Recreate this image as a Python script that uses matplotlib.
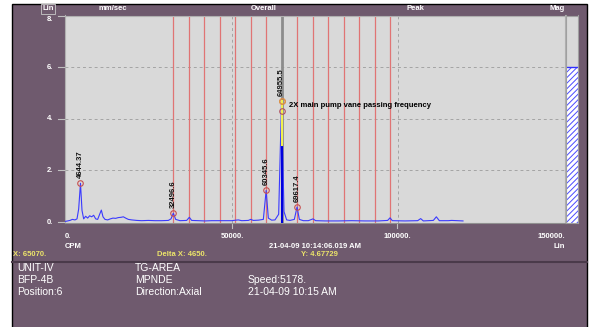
import matplotlib
matplotlib.use('Agg')
import matplotlib.pyplot as plt
from matplotlib.patches import Rectangle

# spectrum (CPM, mm/sec)
freq = [0, 800, 1500, 2200, 3000, 3600, 4100, 4644, 5100, 5600, 6200, 6800, 7400, 8000,
        8600, 9200, 9800, 10400, 10900, 11400, 12000, 12800, 13600, 14400, 15200, 16000,
        16800, 17500, 18200, 19000, 20000, 21500, 23000, 25000, 27000, 29000, 31000,
        31800, 32497, 33200, 34500, 36500, 37300, 38000, 40000, 42000, 44000, 46000,
        48000, 50000, 52000, 53000, 55000, 55700, 56500, 58000, 59500, 60346, 61000,
        62000, 63000, 64100, 64956, 65700, 66500, 67500, 68800, 69617, 70300, 71500,
        73000, 74400, 75200, 78000, 82000, 86000, 90000, 94000, 96800, 97500, 98200,
        102000, 105800, 106700, 107500, 110500, 111400, 112300, 115000, 116000, 119400]
amp = [0.02, 0.04, 0.06, 0.10, 0.08, 0.12, 0.50, 1.50, 0.45, 0.12, 0.22, 0.15, 0.24, 0.20,
       0.26, 0.12, 0.10, 0.30, 0.46, 0.20, 0.10, 0.08, 0.12, 0.15, 0.14, 0.17,
       0.18, 0.20, 0.15, 0.10, 0.08, 0.06, 0.05, 0.06, 0.05, 0.05, 0.06,
       0.12, 0.34, 0.10, 0.05, 0.06, 0.18, 0.06, 0.05, 0.04, 0.05, 0.05,
       0.05, 0.05, 0.08, 0.05, 0.06, 0.10, 0.06, 0.07, 0.10, 1.22, 0.15,
       0.07, 0.08, 0.30, 4.677, 0.40, 0.08, 0.06, 0.10, 0.58, 0.10, 0.05,
       0.05, 0.12, 0.05, 0.04, 0.04, 0.05, 0.04, 0.04, 0.06, 0.16, 0.05,
       0.04, 0.05, 0.13, 0.04, 0.06, 0.20, 0.05, 0.05, 0.06, 0.04]

# labelled peaks
peak_x = [4644.37, 32496.6, 60345.6, 64955.5, 69617.4]
peak_y = [1.50, 0.34, 1.22, 4.677, 0.58]
peak_txt = ['4644.37', '32496.6', '60345.6', '64955.5', '69617.4']

cursor_x = 65070
harm_x = [32520, 37170, 41820, 46470, 51120, 55770, 60420,
          69720, 74370, 79020, 83670, 88320, 92970, 97620]
mag_value = 6.0

W, H = 589, 327
purple = '#6f5a6e'
fig = plt.figure(figsize=(W / 100, H / 100), dpi=100, facecolor='white')

def fx(px):
    return px / W

def fy(py):
    return 1 - py / H

# background panel
bg = fig.add_axes([0, 0, 1, 1], zorder=-5)
bg.set_xlim(0, W)
bg.set_ylim(H, 0)
bg.axis('off')
bg.add_patch(Rectangle((12, 4), 575, 330, facecolor=purple, edgecolor='black', lw=1))
bg.plot([12, 587], [262, 262], color='#4a3a4a', lw=1.5)
for yv in [8, 6, 4, 2, 0]:
    py = 222 - yv * 25.8
    bg.plot([58, 64], [py, py], color='#c0c0c0', lw=0.8)
for px in [232, 397]:
    bg.plot([px, px], [223, 228], color='#c0c0c0', lw=0.8)

# main plot
ax = fig.add_axes([fx(65), fy(223), fx(565) - fx(65), fy(15.5) - fy(223)], zorder=2)
ax.set_facecolor('#d9d9d9')
ax.set_xlim(0, 150000)
ax.set_ylim(-0.04, 8.0)
ax.set_xticks([])
ax.set_yticks([])
for s in ax.spines.values():
    s.set_color('#b0b0b0')
    s.set_linewidth(0.8)
ax.spines['bottom'].set_color('#909090')

for yv in [2, 4, 6]:
    ax.axhline(yv, color='#a4a4a4', lw=0.7, ls=(0, (3, 3)), zorder=1)
for xv in [50000, 100000]:
    ax.axvline(xv, color='#a4a4a4', lw=0.7, ls=(0, (3, 3)), zorder=1)

for hx in harm_x:
    ax.axvline(hx, color='#e07474', lw=0.9, zorder=2)
ax.axvline(cursor_x, color='#8c8c8c', lw=2, zorder=2)

ax.plot(freq, amp, color='#3a3aff', lw=0.8, zorder=3)
ax.plot([peak_x[3], peak_x[3]], [0, 3.0], color='#0000dd', lw=1.5, zorder=4)
ax.plot([peak_x[3], peak_x[3]], [3.0, peak_y[3]], color='#f0f050', lw=1.5, zorder=4)

for i in range(len(peak_x)):
    ax.plot(peak_x[i], peak_y[i], 'o', ms=4, mfc='none', mec='#c85050', mew=0.8, zorder=5)
    ax.text(peak_x[i], peak_y[i] + 0.2, peak_txt[i], rotation=90, ha='center', va='bottom',
            fontsize=5.5, weight='bold', family='Liberation Sans', color='#101010', zorder=6)
ax.plot(peak_x[3], peak_y[3], 'o', ms=4, mfc='none', mec='#e0a040', mew=0.8, zorder=6)
ax.plot(peak_x[3], 4.31, 'o', ms=4, mfc='none', mec='#b05060', mew=0.8, zorder=6)
ax.text(67200, 4.5, '2X main pump vane passing frequency', fontsize=5.5, weight='bold',
        family='Liberation Sans', color='black', va='center', zorder=6)

# magnitude bar
plt.rcParams['hatch.color'] = '#4a4aff'
plt.rcParams['hatch.linewidth'] = 0.7
bx = fig.add_axes([fx(566), fy(223), fx(578) - fx(566), fy(15.5) - fy(223)], zorder=2)
bx.set_facecolor('#d9d9d9')
bx.set_xlim(0, 1)
bx.set_ylim(-0.04, 8.0)
bx.set_xticks([])
bx.set_yticks([])
for s in bx.spines.values():
    s.set_color('#a0a0a0')
    s.set_linewidth(0.8)
bx.bar([0.5], [mag_value + 0.04], bottom=-0.04, width=1.0, color='white', hatch='//////',
       edgecolor='#4a4aff', lw=0)
bx.axhline(mag_value, color='#3030ff', lw=1)

# header texts
hdr = dict(color='white', fontsize=5.5, weight='bold', family='Liberation Sans', va='center')
fig.text(fx(48), fy(9), 'Lin', ha='center',
         bbox=dict(boxstyle='square,pad=0.15', fc=purple, ec='#c8c8c8', lw=0.6), **hdr)
fig.text(fx(113), fy(9), 'mm/sec', ha='center', **hdr)
fig.text(fx(264), fy(9), 'Overall', ha='center', **hdr)
fig.text(fx(415), fy(9), 'Peak', ha='center', **hdr)
fig.text(fx(557), fy(9), 'Mag', ha='center', **hdr)

for yv, lab in [(8, '8.'), (6, '6.'), (4, '4.'), (2, '2.'), (0, '0.')]:
    py = 222 - yv * 25.8
    fig.text(fx(53), fy(max(py, 19.5)), lab, ha='right', **hdr)

fig.text(fx(65), fy(237), '0.', ha='left', **hdr)
fig.text(fx(232), fy(237), '50000.', ha='center', **hdr)
fig.text(fx(397), fy(237), '100000.', ha='center', **hdr)
fig.text(fx(565), fy(237), '150000.', ha='right', **hdr)
fig.text(fx(65), fy(246), 'CPM', ha='left', **hdr)
fig.text(fx(315), fy(246), '21-04-09 10:14:06.019 AM', ha='center', **hdr)
fig.text(fx(565), fy(246), 'Lin', ha='right', **hdr)

yel = dict(hdr)
yel['color'] = '#ece46a'
fig.text(fx(13), fy(255), 'X: 65070.', ha='left', **yel)
fig.text(fx(157), fy(255), 'Delta X: 4650.', ha='left', **yel)
fig.text(fx(301), fy(255), 'Y: 4.67729', ha='left', **yel)

# info block
info = dict(color='white', fontsize=7.5, family='Liberation Sans', va='center', ha='left')
fig.text(fx(17), fy(268), 'UNIT-IV', **info)
fig.text(fx(17), fy(280), 'BFP-4B', **info)
fig.text(fx(17), fy(292), 'Position:6', **info)
fig.text(fx(135), fy(268), 'TG-AREA', **info)
fig.text(fx(135), fy(280), 'MPNDE', **info)
fig.text(fx(135), fy(292), 'Direction:Axial', **info)
fig.text(fx(248), fy(280), 'Speed:5178.', **info)
fig.text(fx(248), fy(292), '21-04-09 10:15 AM', **info)

fig.savefig('out.png', dpi=100, facecolor='white')
